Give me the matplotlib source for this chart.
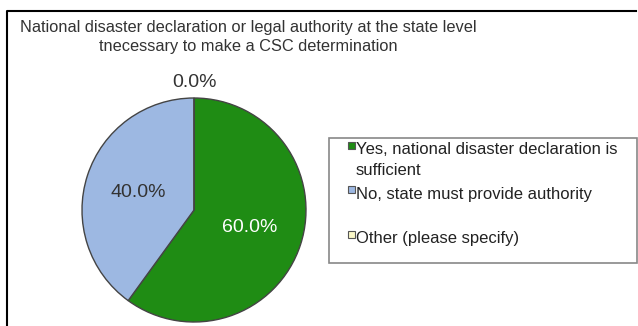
import matplotlib
matplotlib.use('Agg')
import matplotlib.pyplot as plt
from matplotlib.patches import Rectangle
from matplotlib.lines import Line2D
import numpy as np

plt.rcParams['font.family'] = ['Liberation Sans', 'DejaVu Sans']

title = ("National disaster declaration or legal authority at the state level\n"
         "tnecessary to make a CSC determination")
labels = ["Yes, national disaster declaration is\nsufficient",
          "No, state must provide authority",
          "Other (please specify)"]
values = [60.0, 40.0, 0.0]
colors = ["#1f8c14", "#9db8e2", "#fbf8c8"]
pct_colors = ["white", "#333333", "#333333"]

W, H = 638, 326
fig = plt.figure(figsize=(W / 100, H / 100), dpi=100)

def fx(px):
    return px / W

def fy(py):
    return 1 - py / H

# outer frame (left and top only)
fig.add_artist(Line2D([fx(7), fx(7), fx(636)], [0, fy(11), fy(11)],
                      color="black", lw=1.5, transform=fig.transFigure))

fig.text(fx(248), fy(37), title, ha="center", va="center", fontsize=11.75,
         color="#333333", linespacing=1.35)

# pie
cx, cy, r = 194, 210, 112
ax = fig.add_axes([fx(cx - r), fy(cy + r), (2 * r) / W, (2 * r) / H])
wedges, texts, autotexts = ax.pie(values, colors=colors, startangle=90, counterclock=False,
                                  autopct="%.1f%%", pctdistance=0.52,
                                  wedgeprops=dict(edgecolor="#444444", linewidth=1.0),
                                  textprops=dict(fontsize=14))
for t, c in zip(autotexts, pct_colors):
    t.set_color(c)
# zero slice label sits outside the pie
for w, t, v in zip(wedges, autotexts, values):
    if v == 0:
        ang = np.deg2rad((w.theta1 + w.theta2) / 2)
        t.set_position((1.14 * np.cos(ang), 1.14 * np.sin(ang)))
ax.set_xlim(-1, 1)
ax.set_ylim(-1, 1)

# legend box
fig.add_artist(Rectangle((fx(329), fy(263)), (637 - 329) / W, (263 - 138) / H,
                         facecolor="white", edgecolor="#888888", lw=1.2,
                         transform=fig.transFigure))
row_y = [155, 199, 244]   # baselines of first text line
line_gap = 23
for lab, col, y in zip(labels, colors, row_y):
    fig.add_artist(Rectangle((fx(348), fy(y - 6)), 7 / W, 7 / H, facecolor=col,
                             edgecolor="#555555", lw=0.8, transform=fig.transFigure))
    fig.text(fx(356), fy(y), lab, ha="left", va="top", fontsize=12,
             color="#222222", linespacing=1.45,
             transform=fig.transFigure + matplotlib.transforms.ScaledTranslation(
                 0, 12.5 / 100, fig.dpi_scale_trans))

plt.savefig("out.png", dpi=100)
plt.close()
